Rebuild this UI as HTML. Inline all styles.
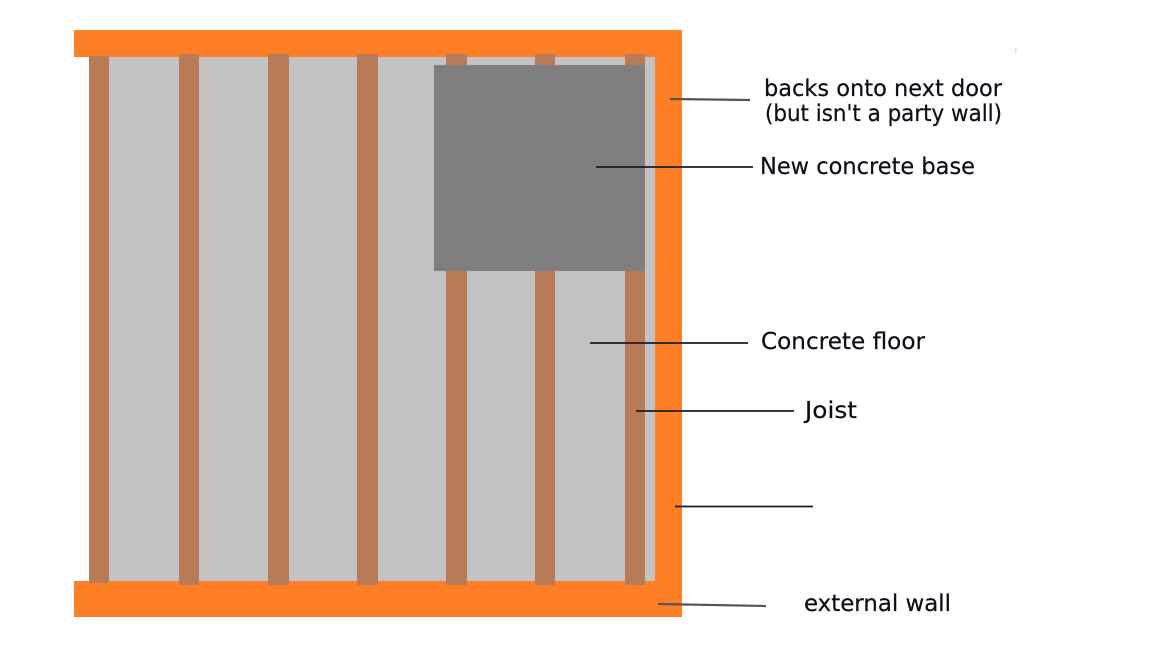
<!DOCTYPE html>
<html lang="en">
<head>
<meta charset="utf-8">
<title>Floor diagram</title>
<style>
html,body{margin:0;padding:0;background:#fff;width:1159px;height:662px;overflow:hidden}
svg{display:block}
text{font-family:"DejaVu Sans","Liberation Sans",sans-serif;font-size:23px;fill:#0a0a16;stroke:#0a0a16;stroke-width:0.2px}
</style>
</head>
<body>
<svg width="1159" height="662" viewBox="0 0 1159 662" xmlns="http://www.w3.org/2000/svg">
<defs><filter id="s" x="-5%" y="-20%" width="110%" height="140%"><feGaussianBlur stdDeviation="0.3"/></filter></defs>
<rect width="1159" height="662" fill="#fff"/>
<!-- floor -->
<rect x="100" y="57" width="555" height="524" fill="#c3c3c3"/>
<!-- walls -->
<rect x="74" y="30" width="608" height="27" fill="#ff7f27"/>
<rect x="655" y="30" width="27" height="587" fill="#ff7f27"/>
<rect x="74" y="581" width="608" height="36" fill="#ff7f27"/>
<!-- joists -->
<g fill="#b97a57">
<rect x="89" y="56" width="20" height="527"/>
<rect x="179" y="54" width="20" height="531"/>
<rect x="268" y="54" width="21" height="531"/>
<rect x="357" y="54" width="21" height="531"/>
<rect x="446" y="54" width="21" height="531"/>
<rect x="535" y="54" width="20" height="531"/>
<rect x="625" y="54" width="20" height="531"/>
</g>
<!-- new concrete base -->
<rect x="434" y="65" width="211" height="206" fill="#7f7f7f"/>
<!-- leaders -->
<g fill="none">
<line x1="670" y1="99" x2="750" y2="100" stroke="#555" stroke-width="2.200"/>
<line x1="596" y1="167" x2="753" y2="167" stroke="#1c1c1c" stroke-width="1.800"/>
<line x1="590" y1="343" x2="748" y2="343" stroke="#1c1c1c" stroke-width="1.800"/>
<line x1="636" y1="411" x2="794" y2="411" stroke="#1c1c1c" stroke-width="1.800"/>
<line x1="675" y1="506.500" x2="813" y2="506.500" stroke="#1c1c1c" stroke-width="1.800"/>
<line x1="658" y1="604" x2="766" y2="606" stroke="#555" stroke-width="2.200"/>
</g>
<rect x="1015" y="48" width="1.500" height="5" fill="#bfe3ff"/>
<!-- labels -->
<g filter="url(#s)">
<text x="764" y="96" textLength="238" lengthAdjust="spacingAndGlyphs">backs onto next door</text>
<text x="765" y="121" textLength="237" lengthAdjust="spacingAndGlyphs">(but isn't a party wall)</text>
<text x="760" y="174" textLength="215" lengthAdjust="spacingAndGlyphs">New concrete base</text>
<text x="761" y="349" textLength="164" lengthAdjust="spacingAndGlyphs">Concrete floor</text>
<text x="805" y="418" textLength="52" lengthAdjust="spacingAndGlyphs">Joist</text>
<text x="804" y="611" textLength="147" lengthAdjust="spacingAndGlyphs">external wall</text>
</g>
</svg>
</body>
</html>
